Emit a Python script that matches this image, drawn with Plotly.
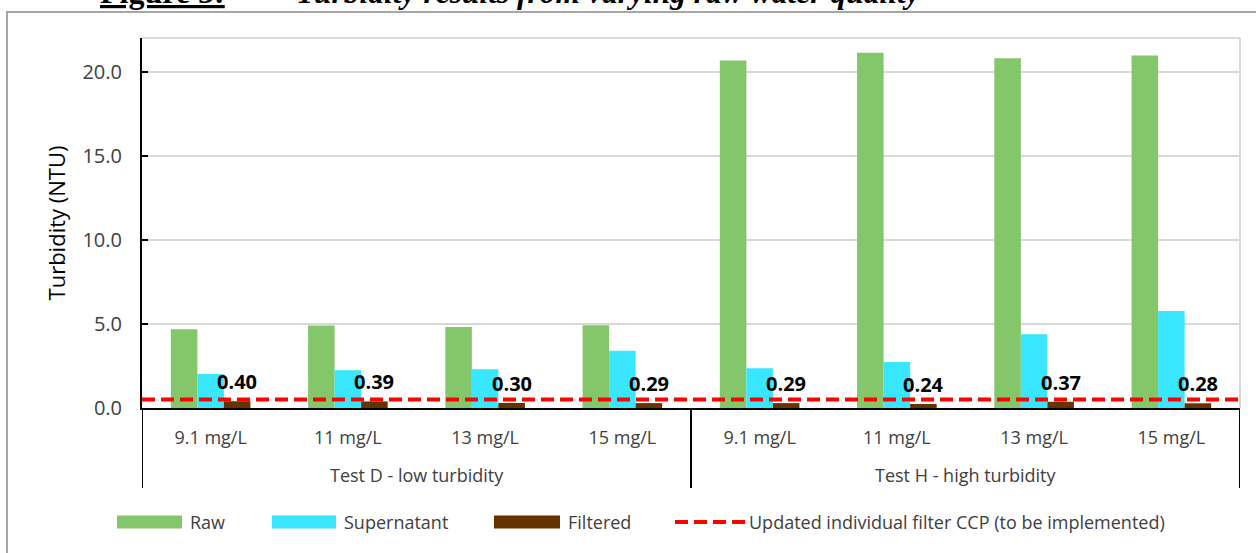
import plotly.graph_objects as go

# ---------------- data ----------------
doses = ["9.1 mg/L", "11 mg/L", "13 mg/L", "15 mg/L",
         "9.1 mg/L", "11 mg/L", "13 mg/L", "15 mg/L"]
groups = ["Test D - low turbidity", "Test H - high turbidity"]
group_sizes = [4, 4]

raw = [4.68, 4.90, 4.82, 4.92, 20.66, 21.12, 20.80, 20.96]
supernatant = [2.02, 2.25, 2.31, 3.40, 2.36, 2.74, 4.39, 5.77]
filtered = [0.40, 0.39, 0.30, 0.29, 0.29, 0.24, 0.37, 0.28]
ccp_limit = 0.5

series_names = ["Raw", "Supernatant", "Filtered"]
ccp_name = "Updated individual filter CCP (to be implemented)"
y_title = "Turbidity (NTU)"
fig_label = "Figure 5:"
fig_title = "Turbidity results from varying raw water quality"

# ---------------- style ----------------
W, H = 1256, 553
ML, MR, MT, MB = 142, 16, 38, 145
PW, PH = W - ML - MR, H - MT - MB
C_RAW, C_SUP, C_FIL, C_CCP = "#84C66A", "#38E6FF", "#663300", "#FF0000"
TXT = "#404040"
FONT = "Open Sans"
BARGAP = 0.42


def xp(px):
    return (px - ML) / PW


def yp(py):
    return (H - MB - py) / PH


x = list(range(len(doses)))

fig = go.Figure()
for name, vals, col in zip(series_names, [raw, supernatant, filtered], [C_RAW, C_SUP, C_FIL]):
    fig.add_trace(go.Bar(x=x, y=vals, name=name, marker_color=col,
                         marker_line_width=0, showlegend=False))

shapes = []
annotations = []

# plot frame (top/right light grey)
shapes.append(dict(type="line", xref="paper", yref="paper", x0=0, x1=1, y0=1, y1=1,
                   line=dict(color="#D9D9D9", width=2), layer="below"))
shapes.append(dict(type="line", xref="paper", yref="paper", x0=1, x1=1, y0=0, y1=1,
                   line=dict(color="#D9D9D9", width=2), layer="below"))

# outer chart border
shapes.append(dict(type="rect", xref="paper", yref="paper",
                   x0=xp(7), x1=xp(W + 20), y0=yp(H + 20), y1=yp(12),
                   line=dict(color="#A6A6A6", width=2), fillcolor="rgba(0,0,0,0)", layer="below"))

# CCP reference line
shapes.append(dict(type="line", xref="paper", yref="y", x0=0, x1=1, y0=ccp_limit, y1=ccp_limit,
                   line=dict(color=C_CCP, width=4, dash="13px,6px"), layer="above"))

# group dividers on the category axis
start = 0
bounds = [-0.5]
for n in group_sizes:
    start += n
    bounds.append(start - 0.5)
for b in bounds:
    shapes.append(dict(type="line", xref="x", yref="paper", x0=b, x1=b, y0=0, y1=yp(488),
                       line=dict(color="black", width=2)))

# group labels
start = 0
for g, n in zip(groups, group_sizes):
    annotations.append(dict(x=start + (n - 1) / 2, y=yp(475), xref="x", yref="paper",
                            text=g, showarrow=False, yanchor="middle",
                            font=dict(family=FONT, size=18, color=TXT)))
    start += n

# filtered value labels
bar_w = (1 - BARGAP) / len(series_names)
for i, v in zip(x, filtered):
    annotations.append(dict(x=i + bar_w, y=v, xref="x", yref="y", text=f"<b>{v:.2f}</b>",
                            showarrow=False, yanchor="bottom", yshift=4,
                            font=dict(family=FONT, size=20, color="black")))

# manual legend  (name, colour, kind, swatch start, swatch end, text start)
legend_items = [
    (series_names[0], C_RAW, "bar", 117, 182, 190),
    (series_names[1], C_SUP, "bar", 272, 336, 344),
    (series_names[2], C_FIL, "bar", 494, 560, 568),
    (ccp_name, C_CCP, "line", 675, 745, 749),
]
LY = 522
for name, col, kind, a, b, t in legend_items:
    if kind == "bar":
        shapes.append(dict(type="rect", xref="paper", yref="paper",
                           x0=xp(a), x1=xp(b), y0=yp(LY + 6.5), y1=yp(LY - 6.5),
                           fillcolor=col, line=dict(width=0)))
    else:
        shapes.append(dict(type="line", xref="paper", yref="paper",
                           x0=xp(a), x1=xp(b), y0=yp(LY), y1=yp(LY),
                           line=dict(color=col, width=4, dash="13px,6px")))
    annotations.append(dict(x=xp(t - 2), y=yp(LY), xref="paper", yref="paper", text=name,
                            showarrow=False, xanchor="left", yanchor="middle",
                            font=dict(family=FONT, size=18, color=TXT)))

# cropped document caption above the chart
annotations.append(dict(x=xp(98), y=yp(12), xref="paper", yref="paper",
                        text=f"<b><u>{fig_label}</u></b>", showarrow=False,
                        xanchor="left", yanchor="bottom",
                        font=dict(family="Liberation Serif", size=32, color="black")))
annotations.append(dict(x=xp(294), y=yp(12), xref="paper", yref="paper",
                        text=f"<b><i>{fig_title}</i></b>", showarrow=False,
                        xanchor="left", yanchor="bottom",
                        font=dict(family="Liberation Serif", size=31.5, color="black")))

fig.update_layout(
    width=W, height=H,
    margin=dict(l=ML, r=MR, t=MT, b=MB),
    paper_bgcolor="white", plot_bgcolor="white",
    barmode="group", bargap=BARGAP, bargroupgap=0,
    font=dict(family=FONT, color=TXT),
    shapes=shapes, annotations=annotations,
    showlegend=False,
    xaxis=dict(range=[-0.5, len(doses) - 0.5], tickmode="array", tickvals=x, ticktext=doses,
               showline=True, linecolor="black", linewidth=2, showgrid=False, zeroline=False,
               ticks="", ticklabelstandoff=12,
               tickfont=dict(family=FONT, size=18, color=TXT)),
    yaxis=dict(range=[0, 22], tickmode="array", tickvals=[0, 5, 10, 15, 20], tickformat=".1f",
               showline=True, linecolor="black", linewidth=2,
               showgrid=True, gridcolor="#D9D9D9", gridwidth=2, zeroline=False,
               ticks="inside", ticklen=6, tickwidth=2, tickcolor="black",
               ticklabelstandoff=14,
               tickfont=dict(family=FONT, size=20, color=TXT),
               title=dict(text=y_title, standoff=11,
                          font=dict(family=FONT, size=22, color="black"))),
)

fig.write_html("out.html",
               config={"displayModeBar": False},
               post_script="document.body.style.margin='0';document.body.style.overflow='hidden';")
